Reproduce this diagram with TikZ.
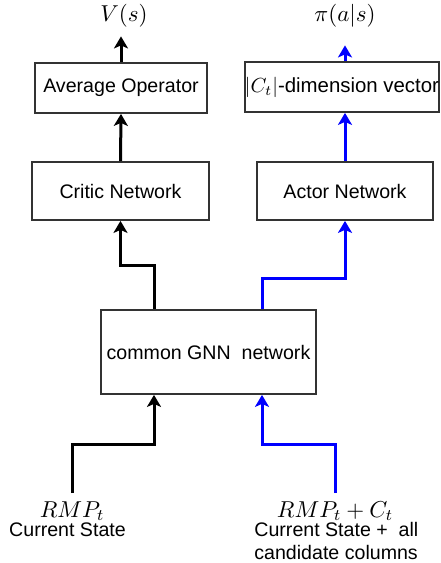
\documentclass[tikz,border=0pt]{standalone}
\usepackage{fix-cm}
\usepackage[no-math]{fontspec}
\setmainfont{Liberation Sans}
\usetikzlibrary{arrows.meta}

\begin{document}
\begin{tikzpicture}[x=0.5pt,y=-0.5pt,
  box/.style={draw=black!80,line width=0.9pt,inner sep=0pt,font=\fontsize{9.8}{11.5}\selectfont},
  lbl/.style={inner sep=0pt,font=\fontsize{9.8}{11.5}\selectfont},
  mth/.style={inner sep=0pt,font=\fontsize{11.5}{13}\selectfont},
  link/.style={draw=black,-{Stealth[length=6pt,width=7pt,inset=1.5pt]},line width=1.5pt},
  bluelink/.style={link,draw=blue}]

\useasboundingbox (0,0) rectangle (440,563);

%outputs
\node[mth] (vs) at (124,16) {$V(s)$};
\node[mth] (pi) at (345,16) {$\pi(a|s)$};

%critic side
\node[box,minimum width=86pt,minimum height=25pt] (avg) at (121,88) {Average Operator};
\node[box,minimum width=88.5pt,minimum height=29pt] (critic) at (120.5,191) {Critic Network};

%actor side
\node[box,minimum width=97pt,minimum height=25pt,font=\fontsize{10.2}{12}\selectfont] (vec) at (342,87) {$|C_t|$-dimension vector};
\node[box,minimum width=88pt,minimum height=29pt] (actor) at (345,191) {Actor Network};

%gnn
\node[box,minimum width=107.5pt,minimum height=42pt] (gnn) at (208.5,352) {common GNN\ \ network};

%inputs
\node[mth] (rmp) at (72,511) {$RMP_t$};
\node[lbl] (cur) at (67.5,530) {Current State};
\node[mth] (rmpc) at (335,511) {$RMP_t+C_t$};
\node[lbl,align=left,anchor=west] (curc) at (254,541) {Current State +\ \ all\\candidate columns};

\coordinate (s1) at (72,493);
\coordinate (j1) at (154,444);
\coordinate (s2) at (335,493);
\coordinate (j2) at (262,444);
\coordinate (k1) at (154,265);
\coordinate (k2) at (262,278);

%arrows
\path[link] (s1) |- (j1) -- (gnn.south -| j1);
\path[bluelink] (s2) |- (j2) -- (gnn.south -| j2);
\path[link] (gnn.north -| k1) -- (k1) -| (critic.south);
\path[bluelink] (gnn.north -| k2) -- (k2) -| (actor.south);
\path[link] (critic.north) -- (avg.south);
\path[bluelink] (actor.north) -- (actor.north |- vec.south);
\path[link,shorten >=4.25pt] (avg.north) -- (avg.north |- vs.south);
\path[bluelink,shorten >=8.75pt] (actor.north |- vec.north) -- (actor.north |- pi.south);

\end{tikzpicture}
\end{document}
